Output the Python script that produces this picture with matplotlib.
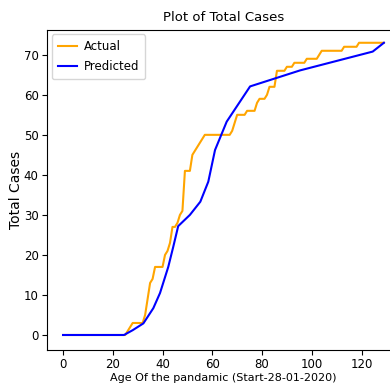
import numpy as np
import matplotlib
matplotlib.use("Agg")
import matplotlib.pyplot as plt

# daily total cases, day 0 .. 129
actual = ([0] * 26 + [1, 2, 3, 3, 3, 3, 3, 5, 9, 13, 14, 17, 17, 17, 17, 20, 21, 23, 27, 27,
          28, 30, 31, 41, 41, 41, 45, 46, 47, 48, 49] + [50] * 11 +
          [51, 53, 55, 55, 55, 55, 56, 56, 56, 56, 58, 59, 59, 59, 60, 62, 62, 62,
           66, 66, 66, 66, 67, 67, 67, 68, 68, 68, 68, 68, 69, 69, 69, 69, 69, 70] +
          [71] * 9 + [72] * 6 + [73] * 11)
days = np.arange(len(actual))

# fitted curve, read as (day, value) vertices
pred_days = [0, 24.5, 28, 32.3, 36.3, 39, 42.3, 44.3, 46.3, 51, 55.2, 58.4, 61.1, 65.8, 75.2, 95.3, 124.5, 129]
pred_vals = [0, 0, 1.2, 2.9, 6.7, 10.5, 17, 22, 27.2, 30, 33.3, 38.3, 46.2, 53.3, 62.1, 66.1, 70.8, 73]

fig = plt.figure(figsize=(3.9, 3.87), dpi=100)
ax = fig.add_axes([0.1205, 0.0956, 0.905, 0.828])
ax.plot(days, actual, color="orange", lw=1.5, label="Actual")
ax.plot(pred_days, pred_vals, color="blue", lw=1.5, label="Predicted")
ax.set_xlim(-6.45, 135.45)
ax.set_ylim(-3.75, 76.3)
ax.set_xticks(range(0, 121, 20))
ax.set_yticks(range(0, 71, 10))
ax.tick_params(labelsize=8.5, pad=2.5)
ax.set_title("Plot of Total Cases", fontsize=9.5)
ax.set_xlabel("Age Of the pandamic (Start-28-01-2020)", fontsize=8, labelpad=1.5)
ax.set_ylabel("Total Cases", fontsize=10)
ax.yaxis.set_label_coords(-0.068, 0.5)
ax.legend(loc="upper left", fontsize=8.5, handlelength=1.6, handletextpad=0.6,
          labelspacing=0.6, borderpad=0.5, borderaxespad=0.4)
fig.savefig("out.png", dpi=100)
